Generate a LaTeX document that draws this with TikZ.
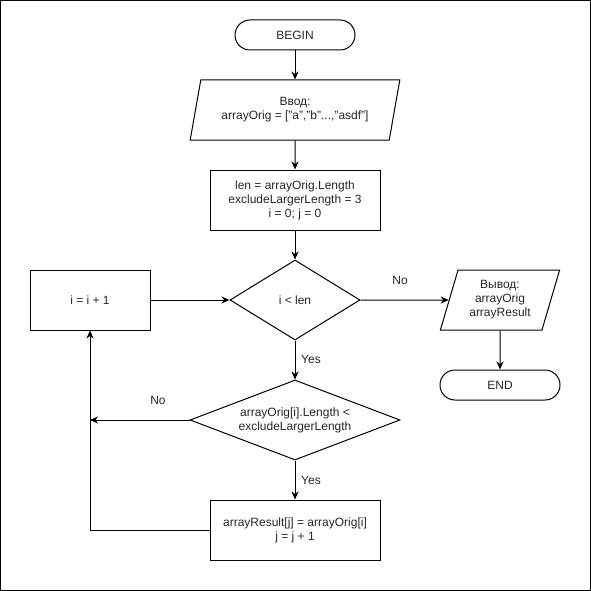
\documentclass[tikz,border=0pt]{standalone}
\usepackage{fontspec}
\setmainfont{Liberation Sans}
\usetikzlibrary{shapes.geometric,arrows.meta}
\begin{document}
\begin{tikzpicture}[x=1pt,y=-1pt,
  every node/.style={font=\fontsize{12}{14}\selectfont, text=black!85},
  box/.style={draw, rectangle, line width=1pt, minimum width=#1, minimum height=60pt, inner sep=0pt, align=center},
  term/.style={draw, rectangle, line width=1pt, rounded corners=15pt, minimum width=120pt, minimum height=30pt, inner sep=0pt},
  io/.style={draw, trapezium, line width=1pt, trapezium left angle=71.57, trapezium right angle=108.43, trapezium stretches=true, minimum width=#1, minimum height=60pt, inner sep=0pt, align=center},
  dec/.style={draw, diamond, line width=1pt, shape aspect=#1, inner sep=0pt, align=center},
  arr/.style={-{Stealth[length=8pt,width=7pt,inset=2.5pt]}, line width=1pt},
  lbl/.style={inner sep=0pt}
]
\useasboundingbox (0,0) rectangle (591,591);
\draw[line width=1pt] (0.5,0.5) rectangle (590.5,590.5);

\node[term] (begin) at (295,35) {BEGIN};
\node[io=210pt] (in) at (295,110) {Ввод:\\arrayOrig = ["a","b"...,"asdf"]};
\node[box=170pt] (init) at (295,200) {len = arrayOrig.Length\\excludeLargerLength = 3\\i = 0; j = 0};
\node[dec=1.625, minimum width=130pt, minimum height=80pt] (d1) at (295,300) {i < len};
\node[box=120pt] (inc) at (90,300) {i = i + 1};
\node[io=120pt] (out) at (500,300) {Вывод:\\arrayOrig\\arrayResult};
\node[term] (end) at (500,385) {END};
\node[dec=2.625, minimum width=210pt, minimum height=80pt] (d2) at (295,420) {arrayOrig[i].Length <\\excludeLargerLength};
\node[box=170pt] (res) at (295,530) {arrayResult[j] = arrayOrig[i]\\j = j + 1};

\draw[arr] (begin) -- (in);
\draw[arr] (in) -- (init);
\draw[arr] (init) -- (d1);
\draw[arr] (inc) -- (d1);
\draw[arr] (d1) -- (out);
\draw[arr] (out.south) -- (end.north);
\draw[arr] (d1) -- (d2);
\draw[arr] (d2) -- (res);
\draw[arr] (d2.west) -- (d2.west -| inc.south);
\draw[arr] (res.west) -| (inc.south);

\node[lbl] (no1) at (400,280) {No};
\node[lbl] (yes1) at (311,359) {Yes};
\node[lbl] (no2) at (158,400) {No};
\node[lbl] (yes2) at (311,480) {Yes};
\end{tikzpicture}
\end{document}
